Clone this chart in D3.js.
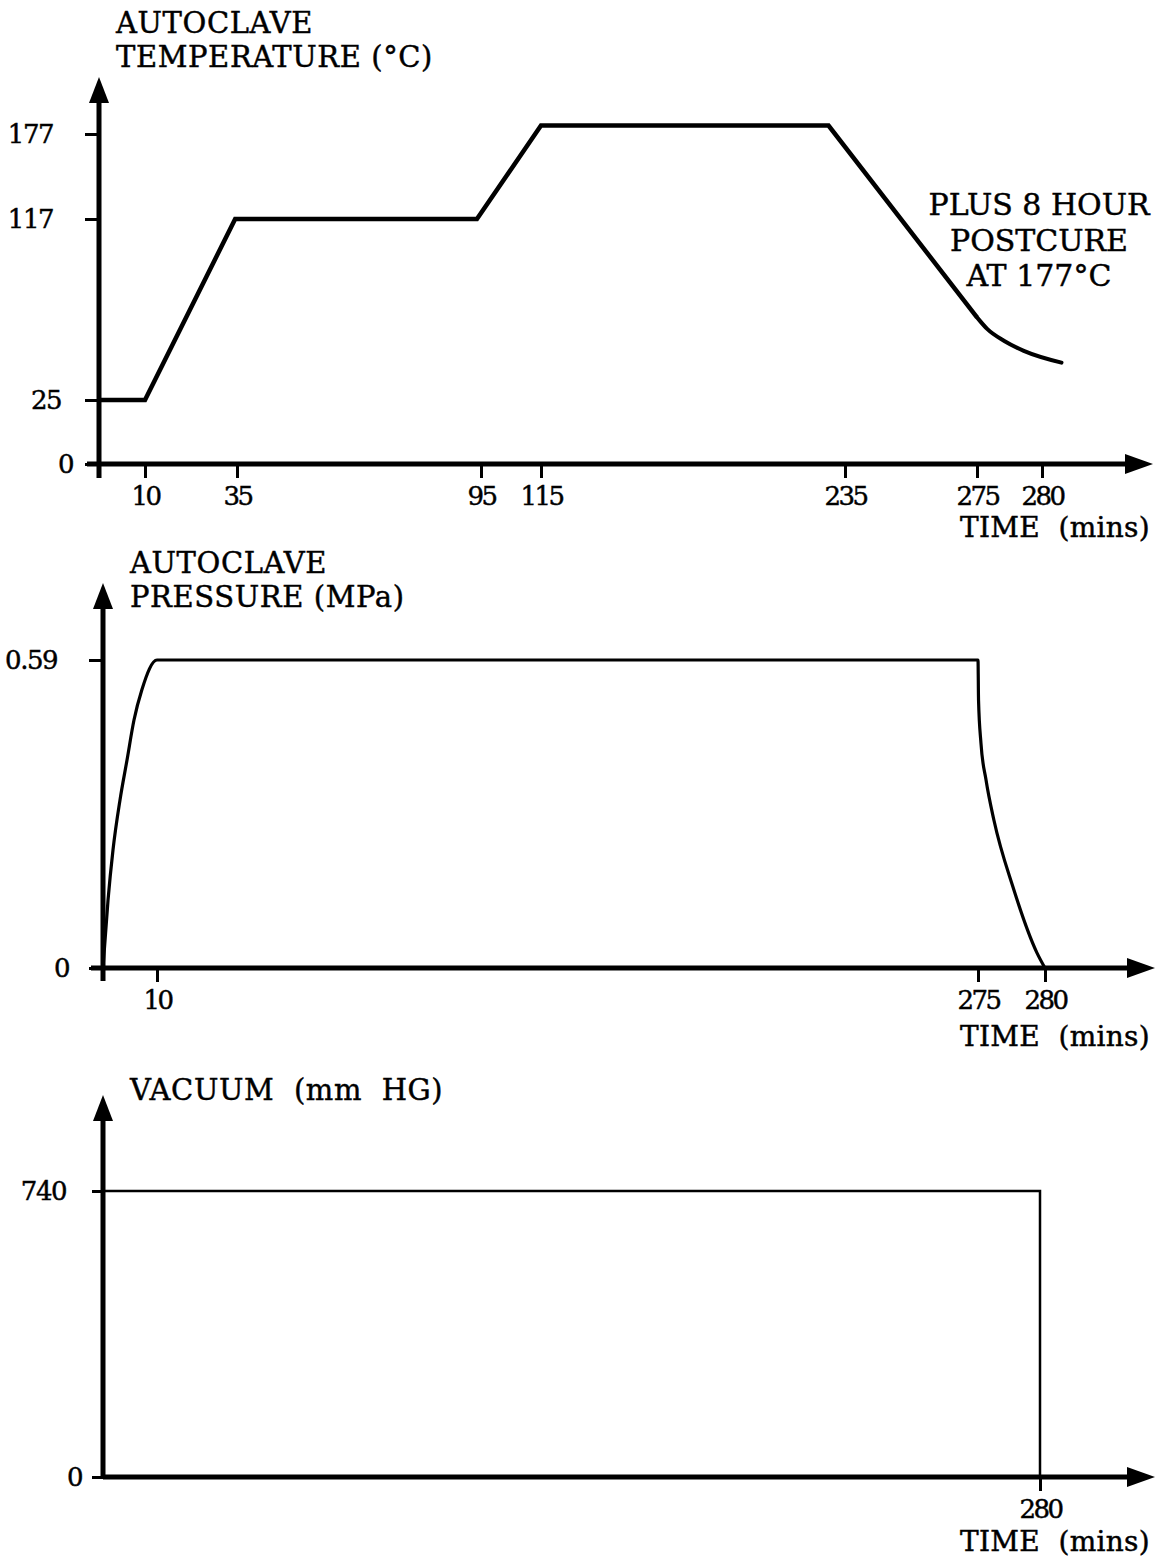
<!DOCTYPE html>
<html>
<head>
<meta charset="utf-8">
<script src="https://cdn.jsdelivr.net/npm/d3@7"></script>
<style>
  html, body { margin: 0; padding: 0; background: #fff; }
  svg { display: block; }
  text { font-family: "DejaVu Serif", "Liberation Serif", serif; fill: #000; stroke: #000; stroke-width: 0.45px; }
</style>
</head>
<body>
<script>
// ---- Cure cycle data ----------------------------------------------------

// Autoclave temperature (°C) against time (mins)
const tempTime   = [0, 10, 34.5, 94, 115, 228.5, 275];
const tempValue  = [25, 25, 117, 117, 183, 183, 67];
// cool-down tail after 275 min
const coolTime   = [275, 275.8, 277.1, 278.6, 281.5];
const coolValue  = [67, 61, 55, 50, 44];
const tempTimeTicks  = [10, 35, 95, 115, 235, 275, 280];
const tempValueTicks = [0, 25, 117, 177];

// Autoclave pressure (MPa) against time (mins)
const presTime  = [0, 0.93, 1.85, 3.15, 4.44, 5.74, 7.2, 10,
                   275, 275.04, 275.22, 275.6, 276.19, 277.61, 279.4, 280];
const presValue = [0, 0.13, 0.226, 0.322, 0.398, 0.475, 0.533, 0.59,
                   0.59, 0.513, 0.431, 0.36, 0.283, 0.155, 0.029, 0];
const presTimeTicks  = [10, 275, 280];
const presValueTicks = [0, 0.59];

// Vacuum (mm HG) against time (mins)
const vacTime  = [0, 280, 280];
const vacValue = [740, 740, 0];
const vacTimeTicks  = [280];
const vacValueTicks = [0, 740];

// ---- Drawing -------------------------------------------------------------

const W = 1165, H = 1560;
const svg = d3.select("body").append("svg").attr("width", W).attr("height", H);

const zip = (xs, ys) => xs.map((x, i) => [x, ys[i]]);

function arrowUp(g, x, yTip) {
  g.append("path")
    .attr("d", `M${x},${yTip} L${x - 10},${yTip + 26} L${x + 10},${yTip + 26} Z`)
    .attr("fill", "#000");
}
function arrowRight(g, xTip, y) {
  g.append("path")
    .attr("d", `M${xTip},${y} L${xTip - 28},${y - 10} L${xTip - 28},${y + 10} Z`)
    .attr("fill", "#000");
}

function panel(opt) {
  const g = svg.append("g");
  const x = opt.x, y = opt.y;
  const x0 = x(0), y0 = y(0);
  const shift = opt.labelShift || {};

  // y ticks with labels
  const yAxis = d3.axisLeft(y)
    .tickValues(opt.yTicks)
    .tickFormat(opt.yFormat || (d => d))
    .tickSize(opt.yTickSize || 14)
    .tickPadding(opt.yPad || 30);
  const ya = g.append("g").attr("transform", `translate(${x0},0)`).call(yAxis);
  ya.select(".domain").remove();
  ya.selectAll(".tick line").attr("stroke", "#000").attr("stroke-width", 3);
  ya.selectAll(".tick text")
    .attr("font-size", 26).attr("letter-spacing", -1.5)
    .attr("font-family", "DejaVu Serif")
    .attr("dx", d => shift[d] || 0);

  // x ticks with labels
  const xAxis = d3.axisBottom(x)
    .tickValues(opt.xTicks)
    .tickFormat(d => d)
    .tickSize(14)
    .tickPadding(9);
  const xa = g.append("g").attr("transform", `translate(0,${y0})`).call(xAxis);
  xa.select(".domain").remove();
  xa.selectAll(".tick line").attr("stroke", "#000").attr("stroke-width", 3);
  xa.selectAll(".tick text")
    .attr("font-size", 26).attr("letter-spacing", -2.5)
    .attr("font-family", "DejaVu Serif");

  // axis lines
  g.append("line")
    .attr("x1", x0).attr("x2", x0)
    .attr("y1", y0 + (opt.yBelow || 0)).attr("y2", opt.yTip + 20)
    .attr("stroke", "#000").attr("stroke-width", 5);
  g.append("line")
    .attr("x1", x0 - (opt.xLeft || 0)).attr("x2", opt.xTip - 20)
    .attr("y1", y0).attr("y2", y0)
    .attr("stroke", "#000").attr("stroke-width", 5);
  arrowUp(g, x0, opt.yTip);
  arrowRight(g, opt.xTip, y0);

  // axis titles, one text per line
  opt.title.forEach((line, i) => {
    g.append("text").attr("class", "title")
      .attr("font-size", 29).attr("letter-spacing", 0.6)
      .attr("xml:space", "preserve")
      .attr("x", opt.titleX).attr("y", opt.titleY + i * 34)
      .text(line);
  });
  g.append("text")
    .attr("x", 1150).attr("y", opt.timeY)
    .attr("text-anchor", "end")
    .attr("font-size", 28).attr("letter-spacing", 0.3)
    .attr("xml:space", "preserve")
    .text("TIME  (mins)");

  return g;
}

const line = (xs, ys, curve) => d3.line().x(d => xs(d[0])).y(d => ys(d[1])).curve(curve);

// ---- Panel 1: temperature ----
const xT = d3.scaleLinear()
  .domain([0, 10, 35, 95, 115, 235, 275, 280])
  .range([99, 145, 237, 481, 541, 845, 977, 1042]);
const yT = d3.scaleLinear()
  .domain([0, 25, 117, 177])
  .range([464, 400, 219, 134]);

const p1 = panel({
  x: xT, y: yT, xTicks: tempTimeTicks, yTicks: tempValueTicks,
  yTip: 77, xTip: 1153, yBelow: 14, xLeft: 12, yPad: 32,
  labelShift: { 0: 20, 25: 8 },
  title: ["AUTOCLAVE", "TEMPERATURE (°C)"], titleX: 116, titleY: 33, timeY: 537
});

p1.append("path")
  .datum(zip(tempTime, tempValue))
  .attr("d", line(xT, yT, d3.curveLinear))
  .attr("fill", "none").attr("stroke", "#000").attr("stroke-width", 4.5)
  .attr("stroke-linejoin", "miter");
p1.append("path")
  .datum(zip(coolTime, coolValue))
  .attr("d", line(xT, yT, d3.curveMonotoneX))
  .attr("fill", "none").attr("stroke", "#000").attr("stroke-width", 4)
  .attr("stroke-linecap", "round");

["PLUS 8 HOUR", "POSTCURE", "AT 177°C"].forEach((s, i) => {
  p1.append("text").attr("font-size", 30).attr("text-anchor", "middle")
    .attr("x", 1039).attr("y", 215 + i * 35.5).text(s);
});

// ---- Panel 2: pressure ----
const xP = d3.scaleLinear()
  .domain([0, 10, 275, 280])
  .range([103, 157, 978, 1045]);
const yP = d3.scaleLinear()
  .domain([0, 0.59])
  .range([968, 660]);

const p2 = panel({
  x: xP, y: yP, xTicks: presTimeTicks, yTicks: presValueTicks,
  yFormat: d => (d === 0 ? "0" : d3.format(".2f")(d)),
  yTip: 583, xTip: 1155, yBelow: 13, xLeft: 12, yPad: 32,
  labelShift: { 0: 12 },
  title: ["AUTOCLAVE", "PRESSURE (MPa)"], titleX: 130, titleY: 573, timeY: 1046
});

p2.append("path")
  .datum(zip(presTime, presValue))
  .attr("d", line(xP, yP, d3.curveMonotoneX))
  .attr("fill", "none").attr("stroke", "#000").attr("stroke-width", 3.2);

// ---- Panel 3: vacuum ----
const xV = d3.scaleLinear().domain([0, 280]).range([103, 1040]);
const yV = d3.scaleLinear().domain([0, 740]).range([1477, 1191]);

const p3 = panel({
  x: xV, y: yV, xTicks: vacTimeTicks, yTicks: vacValueTicks,
  yTip: 1095, xTip: 1155, yBelow: 0, xLeft: 0, yPad: 26,
  labelShift: { 0: 16 },
  yTickSize: 11,
  title: ["VACUUM  (mm  HG)"], titleX: 130, titleY: 1100, timeY: 1551
});

p3.append("path")
  .datum(zip(vacTime, vacValue))
  .attr("d", line(xV, yV, d3.curveLinear))
  .attr("fill", "none").attr("stroke", "#000").attr("stroke-width", 2.5);
</script>
</body>
</html>
